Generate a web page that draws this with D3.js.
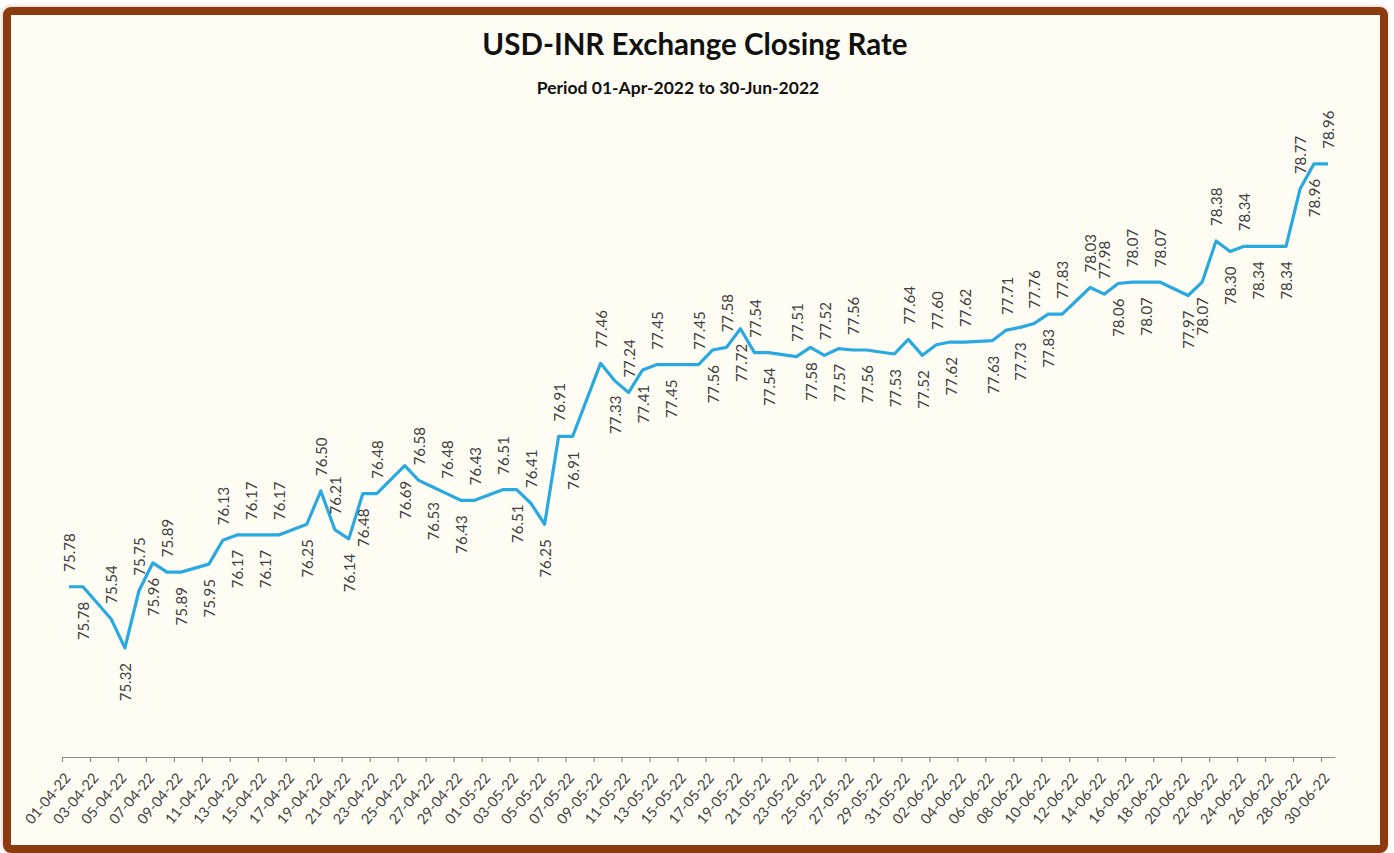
<!DOCTYPE html>
<html>
<head>
<meta charset="utf-8">
<script src="https://cdn.jsdelivr.net/npm/d3@7"></script>
<style>
    body { margin: 0; background: #ffffff; }
    svg { display: block; }
</style>
</head>
<body>
<div id="chart"></div>
<script>
// closing rate for every day except Sundays
const dates = [
    "2022-04-01", "2022-04-02", "2022-04-04", "2022-04-05", "2022-04-06", "2022-04-07", "2022-04-08", "2022-04-09",
    "2022-04-11", "2022-04-12", "2022-04-13", "2022-04-14", "2022-04-15", "2022-04-16",
    "2022-04-18", "2022-04-19", "2022-04-20", "2022-04-21", "2022-04-22", "2022-04-23",
    "2022-04-25", "2022-04-26", "2022-04-27", "2022-04-28", "2022-04-29", "2022-04-30",
    "2022-05-02", "2022-05-03", "2022-05-04", "2022-05-05", "2022-05-06", "2022-05-07",
    "2022-05-09", "2022-05-10", "2022-05-11", "2022-05-12", "2022-05-13", "2022-05-14",
    "2022-05-16", "2022-05-17", "2022-05-18", "2022-05-19", "2022-05-20", "2022-05-21",
    "2022-05-23", "2022-05-24", "2022-05-25", "2022-05-26", "2022-05-27", "2022-05-28",
    "2022-05-30", "2022-05-31", "2022-06-01", "2022-06-02", "2022-06-03", "2022-06-04",
    "2022-06-06", "2022-06-07", "2022-06-08", "2022-06-09", "2022-06-10", "2022-06-11",
    "2022-06-13", "2022-06-14", "2022-06-15", "2022-06-16", "2022-06-17", "2022-06-18",
    "2022-06-20", "2022-06-21", "2022-06-22", "2022-06-23", "2022-06-24", "2022-06-25",
    "2022-06-27", "2022-06-28", "2022-06-29", "2022-06-30"
];

const rates = [
    75.78, 75.78, 75.54, 75.32, 75.75, 75.96, 75.89, 75.89,
    75.95, 76.13, 76.17, 76.17, 76.17, 76.17,
    76.25, 76.50, 76.21, 76.14, 76.48, 76.48,
    76.69, 76.58, 76.53, 76.48, 76.43, 76.43,
    76.51, 76.51, 76.41, 76.25, 76.91, 76.91,
    77.46, 77.33, 77.24, 77.41, 77.45, 77.45,
    77.45, 77.56, 77.58, 77.72, 77.54, 77.54,
    77.51, 77.58, 77.52, 77.57, 77.56, 77.56,
    77.53, 77.64, 77.52, 77.60, 77.62, 77.62,
    77.63, 77.71, 77.73, 77.76, 77.83, 77.83,
    78.03, 77.98, 78.06, 78.07, 78.07, 78.07,
    77.97, 78.07, 78.38, 78.30, 78.34, 78.34,
    78.34, 78.77, 78.96, 78.96
];

// where each data label sits: a = above the line, b = below
const labelSide = [
    "a", "b", "a", "b", "a", "b", "a", "b",
    "b", "a", "b", "a", "b", "a",
    "b", "a", "a", "b", "b", "a",
    "b", "a", "b", "a", "b", "a",
    "a", "b", "a", "b", "a", "b",
    "a", "b", "a", "b", "a", "b",
    "a", "b", "a", "b", "a", "b",
    "a", "b", "a", "b", "a", "b",
    "b", "a", "b", "a", "b", "a",
    "b", "a", "b", "a", "b", "a",
    "a", "a", "b", "a", "b", "a",
    "b", "b", "a", "b", "a", "b",
    "b", "a", "b", "a"
];

const chartTitle = "USD-INR Exchange Closing Rate";
const chartSubtitle = "Period 01-Apr-2022 to 30-Jun-2022";

const width = 1394;
const height = 853;
const parseDate = d3.timeParse("%Y-%m-%d");

const data = dates.map((d, i) => ({
    date: parseDate(d),
    value: rates[i],
    side: labelSide[i]
}));

const svg = d3.select("#chart").append("svg")
    .attr("width", width)
    .attr("height", height);

// ── Frame ──
const defs = svg.append("defs");
const shadow = defs.append("filter").attr("id", "frame-shadow")
    .attr("x", "-2%").attr("y", "-2%").attr("width", "104%").attr("height", "104%");
shadow.append("feDropShadow")
    .attr("dx", -1).attr("dy", -1).attr("stdDeviation", 2)
    .attr("flood-color", "#e8a890").attr("flood-opacity", 0.6);

svg.append("rect")
    .attr("x", 7).attr("y", 11)
    .attr("width", 1377).attr("height", 838)
    .attr("rx", 4)
    .attr("fill", "#fffdf3")
    .attr("stroke", "#8b3a0e")
    .attr("stroke-width", 8)
    .attr("filter", "url(#frame-shadow)");

// ── Scales ──
const start = parseDate("2022-04-01");
const end = parseDate("2022-07-01");

const x = d3.scaleTime()
    .domain([start, end])
    .range([62, 1335]);

const y = d3.scaleLinear()
    .domain([74.5, 79.5])
    .range([757, 92]);

// points sit in the middle of each day's slot
const px = d => x(d3.timeHour.offset(d.date, 12));

// ── Axis ──
const tickDates = d3.timeDay.range(start, end, 2);

const xAxis = d3.axisBottom(x)
    .tickValues(tickDates)
    .tickSizeInner(5)
    .tickSizeOuter(0)
    .tickFormat(d3.timeFormat("%d-%m-%y"));

const axisG = svg.append("g")
    .attr("transform", `translate(0,${y(74.5)})`)
    .call(xAxis);

axisG.select(".domain").attr("stroke", "#8c8c8c").attr("stroke-width", 1.2);
axisG.selectAll(".tick line").attr("stroke", "#8c8c8c").attr("stroke-width", 1.2);
axisG.selectAll(".tick text")
    .attr("font-family", "Lato, 'Open Sans', sans-serif")
    .attr("font-size", 14.5)
    .attr("fill", "#404040")
    .attr("text-anchor", "end")
    .attr("dy", "0.35em")
    .attr("y", 0)
    .attr("transform", "translate(5,18) rotate(-50)");

// ── Line ──
const line = d3.line()
    .x(px)
    .y(d => y(d.value));

svg.append("path")
    .datum(data)
    .attr("d", line)
    .attr("fill", "none")
    .attr("stroke", "#29a9df")
    .attr("stroke-width", 3.2)
    .attr("stroke-linejoin", "round");

// ── Data labels ──
svg.append("g").selectAll("text")
    .data(data)
    .join("text")
    .attr("transform", d => {
        const gap = d.side === "a" ? -15 : 15;
        return `translate(${px(d) + 1},${y(d.value) + gap}) rotate(-90)`;
    })
    .attr("text-anchor", d => d.side === "a" ? "start" : "end")
    .attr("dy", "0.35em")
    .attr("font-family", "Lato, 'Open Sans', sans-serif")
    .attr("font-size", 15)
    .attr("fill", "#404040")
    .text(d => d.value.toFixed(2));

// ── Titles ──
svg.append("text")
    .attr("x", 695).attr("y", 55)
    .attr("text-anchor", "middle")
    .attr("font-family", "Lato, 'Open Sans', sans-serif")
    .attr("font-weight", "bold")
    .attr("font-size", 29.5)
    .attr("fill", "#111")
    .text(chartTitle);

svg.append("text")
    .attr("x", 678).attr("y", 94)
    .attr("text-anchor", "middle")
    .attr("font-family", "Lato, 'Open Sans', sans-serif")
    .attr("font-weight", "bold")
    .attr("font-size", 17.5)
    .attr("fill", "#111")
    .text(chartSubtitle);
</script>
</body>
</html>
